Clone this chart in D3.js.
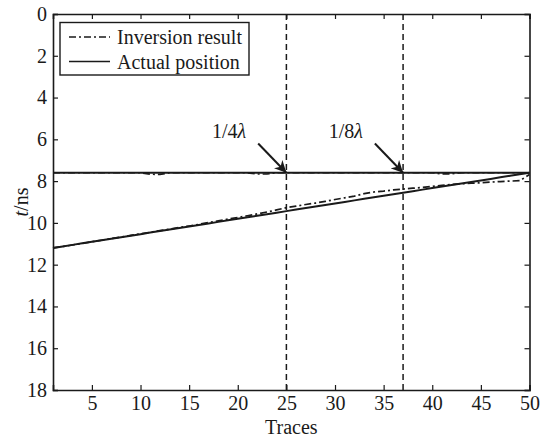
<!DOCTYPE html>
<html>
<head>
<meta charset="utf-8">
<script src="https://cdn.jsdelivr.net/npm/d3@7"></script>
<style>
  body { margin: 0; background: #fff; }
  svg text { font-family: "Liberation Serif", "Times New Roman", serif; fill: #1a1a1a; }
</style>
</head>
<body>
<svg id="chart" width="540" height="437"></svg>
<script>
// Traces 1..50
const traces = d3.range(1, 51);

// Actual position: flat interface and sloping interface (ns)
const actualFlat = traces.map(() => 7.6);
const actualSlope = traces.map(t => 11.2 - 3.6 * (t - 1) / 49);

// Inversion result (ns)
const inversionFlat = [
  7.6, 7.6, 7.6, 7.6, 7.6, 7.6, 7.6, 7.6, 7.6, 7.6,
  7.67, 7.68, 7.6, 7.6, 7.6, 7.6, 7.6, 7.6, 7.6, 7.6,
  7.6, 7.66, 7.66, 7.6, 7.6, 7.6, 7.6, 7.6, 7.6, 7.6,
  7.6, 7.6, 7.6, 7.6, 7.6, 7.6, 7.6, 7.6, 7.6, 7.6,
  7.65, 7.65, 7.6, 7.6, 7.6, 7.6, 7.6, 7.6, 7.6, 7.6
];
const inversionSlope = [
  11.2, 11.13, 11.06, 10.99, 10.9, 10.83, 10.75, 10.68, 10.6, 10.52,
  10.45, 10.37, 10.3, 10.22, 10.15, 10.07, 9.98, 9.9, 9.82, 9.74,
  9.66, 9.57, 9.48, 9.38, 9.27, 9.2, 9.12, 9.05, 8.97, 8.88,
  8.8, 8.72, 8.6, 8.52, 8.48, 8.42, 8.38, 8.34, 8.3, 8.25,
  8.2, 8.16, 8.13, 8.1, 8.08, 8.05, 8.02, 8.0, 7.98, 7.68
];

const xTicks = [5, 10, 15, 20, 25, 30, 35, 40, 45, 50];
const yTicks = [0, 2, 4, 6, 8, 10, 12, 14, 16, 18];
const markers = [25, 37];
const markerLabels = ["1/4", "1/8"];

const size = { left: 53, right: 529.5, top: 14, bottom: 390 };
const svg = d3.select("#chart");

const x = d3.scaleLinear().domain([1, 50]).range([size.left, size.right]);
const y = d3.scaleLinear().domain([0, 18]).range([size.top, size.bottom]);

const ink = "#1a1a1a";
const fontSize = 20;

// Axes with inward ticks (bottom/left labelled, top/right mirrored)
const tickLen = 5;
svg.append("g")
    .attr("transform", `translate(0,${size.bottom})`)
    .call(d3.axisBottom(x).tickValues(xTicks).tickSize(-tickLen).tickPadding(6))
    .call(g => g.selectAll("text").attr("font-size", fontSize).attr("dy", "0.71em"));
svg.append("g")
    .attr("transform", `translate(0,${size.top})`)
    .call(d3.axisTop(x).tickValues(xTicks).tickSize(-tickLen).tickFormat(""));
svg.append("g")
    .attr("transform", `translate(${size.left},0)`)
    .call(d3.axisLeft(y).tickValues(yTicks).tickSize(-tickLen).tickPadding(6))
    .call(g => g.selectAll("text").attr("font-size", fontSize));
svg.append("g")
    .attr("transform", `translate(${size.right},0)`)
    .call(d3.axisRight(y).tickValues(yTicks).tickSize(-tickLen).tickFormat(""));

svg.selectAll(".domain").attr("stroke", ink).attr("stroke-width", 1.6);
svg.selectAll(".tick line").attr("stroke", ink).attr("stroke-width", 1.2);
svg.selectAll(".tick text").attr("fill", ink);

// Vertical dashed marker lines
svg.selectAll(".marker")
    .data(markers)
    .enter().append("line")
    .attr("x1", d => x(d)).attr("x2", d => x(d))
    .attr("y1", y(0)).attr("y2", y(18))
    .attr("stroke", ink)
    .attr("stroke-width", 1.5)
    .attr("stroke-dasharray", "6,4");

const line = d3.line().x((d, i) => x(traces[i])).y(d => y(d));

// Actual position (solid)
[actualFlat, actualSlope].forEach(s => {
    svg.append("path")
        .attr("d", line(s))
        .attr("fill", "none")
        .attr("stroke", ink)
        .attr("stroke-width", 2);
});

// Inversion result (dash-dot)
[inversionFlat, inversionSlope].forEach(s => {
    svg.append("path")
        .attr("d", line(s))
        .attr("fill", "none")
        .attr("stroke", ink)
        .attr("stroke-width", 1.7)
        .attr("stroke-dasharray", "7,3,2,3");
});

// Arrow annotations
svg.append("defs").append("marker")
    .attr("id", "arrow")
    .attr("viewBox", "0 0 10 10")
    .attr("refX", 10).attr("refY", 5)
    .attr("markerWidth", 6).attr("markerHeight", 6)
    .attr("markerUnits", "strokeWidth")
    .attr("orient", "auto")
    .append("path")
    .attr("d", "M0,0 L10,5 L0,10 L3,5 Z")
    .attr("fill", ink);

markers.forEach((m, i) => {
    const x0 = x(m - 2.9), y0 = y(7.6 - 1.4);
    svg.append("line")
        .attr("x1", x0).attr("y1", y0)
        .attr("x2", x(m)).attr("y2", y(7.6))
        .attr("stroke", ink)
        .attr("stroke-width", 2)
        .attr("marker-end", "url(#arrow)");
    const t = svg.append("text")
        .attr("x", x0 - 12).attr("y", y0 - 6)
        .attr("text-anchor", "end")
        .attr("font-size", fontSize);
    t.append("tspan").text(markerLabels[i]);
    t.append("tspan").attr("font-style", "italic").text("λ");
});

// Legend
const legend = svg.append("g");
legend.append("rect")
    .attr("x", 60).attr("y", 22.5)
    .attr("width", 189).attr("height", 52.5)
    .attr("fill", "#fff")
    .attr("stroke", ink)
    .attr("stroke-width", 1.4);
const legendItems = [
    { name: "Inversion result", dash: "7,3,2,3" },
    { name: "Actual position", dash: null }
];
legendItems.forEach((d, i) => {
    const ly = 37 + i * 24.5;
    legend.append("line")
        .attr("x1", 69).attr("x2", 110)
        .attr("y1", ly).attr("y2", ly)
        .attr("stroke", ink)
        .attr("stroke-width", 1.6)
        .attr("stroke-dasharray", d.dash);
    legend.append("text")
        .attr("x", 117).attr("y", ly + 7)
        .attr("font-size", fontSize)
        .text(d.name);
});

// Axis titles
svg.append("text")
    .attr("x", (size.left + size.right) / 2)
    .attr("y", 434)
    .attr("text-anchor", "middle")
    .attr("font-size", fontSize)
    .text("Traces");

const yl = svg.append("text")
    .attr("transform", `translate(28,${(size.top + size.bottom) / 2}) rotate(-90)`)
    .attr("text-anchor", "middle")
    .attr("font-size", fontSize);
yl.append("tspan").attr("font-style", "italic").text("t");
yl.append("tspan").text("/ns");
</script>
</body>
</html>
